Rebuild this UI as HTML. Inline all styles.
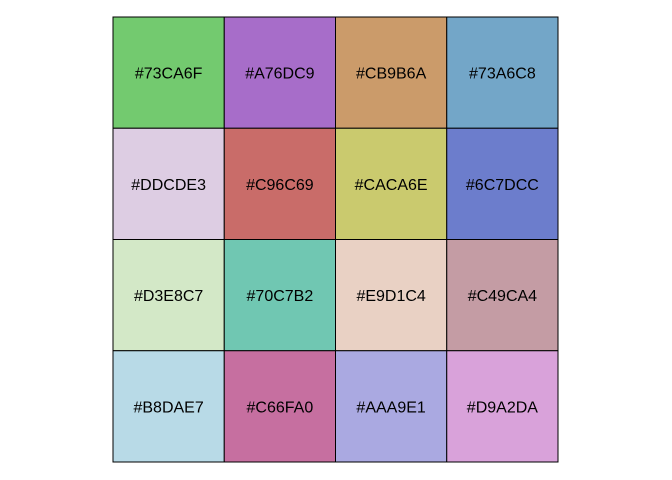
<!DOCTYPE html>
<html><head><meta charset="utf-8"><style>
html,body{margin:0;padding:0;background:#fff;}
svg{display:block;}
</style></head><body>
<svg id="chart" width="672" height="480" xmlns="http://www.w3.org/2000/svg"></svg>
<script>
const colors = ["#73CA6F","#A76DC9","#CB9B6A","#73A6C8","#DDCDE3","#C96C69","#CACA6E","#6C7DCC","#D3E8C7","#70C7B2","#E9D1C4","#C49CA4","#B8DAE7","#C66FA0","#AAA9E1","#D9A2DA"];
const nCols = 4;
const nRows = 4;
const svg = document.getElementById('chart');
const NS = 'http://www.w3.org/2000/svg';
const x0 = 113, y0 = 17, x1 = 558, y1 = 462;
const cw = (x1 - x0) / nCols, ch = (y1 - y0) / nRows;
function xPos(c){ return x0 + c * cw; }
function yPos(r){ return y0 + r * ch; }
colors.forEach((col, i) => {
  const c = i % nCols, r = Math.floor(i / nCols);
  const rect = document.createElementNS(NS, 'rect');
  rect.setAttribute('x', xPos(c)); rect.setAttribute('y', yPos(r));
  rect.setAttribute('width', cw); rect.setAttribute('height', ch);
  rect.setAttribute('fill', col); rect.setAttribute('stroke', '#000'); rect.setAttribute('stroke-width', '1');
  
  
  svg.appendChild(rect);
  const t = document.createElementNS(NS, 'text');
  t.setAttribute('x', xPos(c) + cw / 2); t.setAttribute('y', yPos(r) + ch / 2 + 6);
  t.setAttribute('text-anchor', 'middle');
  t.setAttribute('font-family', 'Liberation Sans, Arial, sans-serif');
  t.setAttribute('font-size', '16'); t.setAttribute('fill', '#000');
  t.textContent = col;
  
  
  svg.appendChild(t);
});
</script>
</body></html>
